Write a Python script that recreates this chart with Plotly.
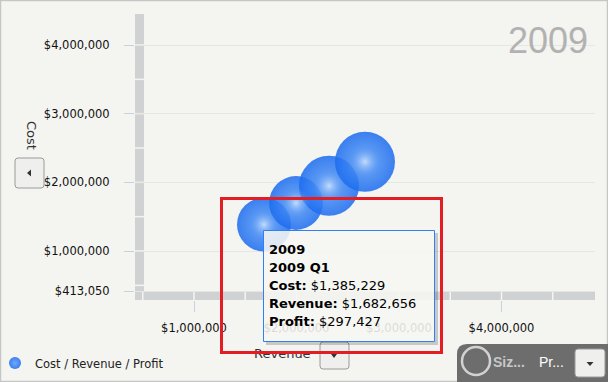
import plotly.graph_objects as go

# ---------------- data ----------------
quarters = ["2009 Q1", "2009 Q2", "2009 Q3", "2009 Q4"]
revenue = [1682656, 1995000, 2317000, 2668000]
cost = [1385229, 1699000, 1949000, 2300000]
profit = [297427, 296000, 368000, 368000]
year_label = "2009"
series_name = "Cost / Revenue / Profit"

y_tickvals = [413050, 1000000, 2000000, 3000000, 4000000]
y_ticktext = ["$413,050", "$1,000,000", "$2,000,000", "$3,000,000", "$4,000,000"]
x_tickvals = [1000000, 2000000, 3000000, 4000000]
x_ticktext = ["$1,000,000", "$2,000,000", "$3,000,000", "$4,000,000"]

# ---------------- geometry ----------------
W, H = 608, 382
L, R, T, B = 135, 13, 14, 82
PW, PH = W - L - R, H - T - B


def px(x):
    return (x - L) / PW


def py(y):
    return (H - B - y) / PH


X0, X1 = 424390, 4912195
Y0, Y1 = 286408, 4451456

BG = "#f4f4f0"
BAR = "#d0d1d3"
TICKC = "#c3d3e3"

fig = go.Figure()

max_d = 60
fig.add_trace(go.Scatter(
    x=revenue, y=cost, mode="markers", name=series_name,
    marker=dict(size=profit, sizemode="area", sizeref=2 * max(profit) / max_d ** 2,
                color="#1c6cf0", opacity=0.86,
                gradient=dict(type="radial", color="#5b9ef6"),
                line=dict(width=0)),
    hoverinfo="skip", showlegend=True,
))
hl_d = 34
fig.add_trace(go.Scatter(
    x=revenue, y=cost, mode="markers", name="hl",
    marker=dict(size=profit, sizemode="area", sizeref=2 * max(profit) / hl_d ** 2,
                color="rgba(70,140,245,0)",
                gradient=dict(type="radial", color="rgba(238,244,255,0.95)"),
                line=dict(width=0)),
    hoverinfo="skip", showlegend=False,
))

shapes = []
# axis bars
shapes.append(dict(type="rect", xref="paper", yref="paper", x0=0, x1=px(144), y0=0, y1=1,
                   fillcolor=BAR, line=dict(width=0), layer="between"))
shapes.append(dict(type="rect", xref="paper", yref="paper", x0=0, x1=1, y0=0, y1=py(292),
                   fillcolor=BAR, line=dict(width=0), layer="between"))
for k in range(1, 10):
    v = k * 500000
    shapes.append(dict(type="line", xref="x", yref="paper", x0=v, x1=v, y0=0, y1=py(292),
                       line=dict(color="#f4f4f2", width=1.5), layer="between"))
for k in range(1, 9):
    v = k * 500000
    shapes.append(dict(type="line", xref="paper", yref="y", x0=0, x1=px(144), y0=v, y1=v,
                       line=dict(color="#f4f4f2", width=1.5), layer="between"))

# outer border
shapes.append(dict(type="rect", xref="paper", yref="paper", x0=px(0.5), x1=px(607.5),
                   y0=py(381.5), y1=py(0.5), line=dict(color="#c6c6c6", width=1.5),
                   fillcolor="rgba(0,0,0,0)"))


def rrect(x0, y0, x1, y1, r):
    return (f"M {px(x0 + r)},{py(y0)} L {px(x1 - r)},{py(y0)} "
            f"Q {px(x1)},{py(y0)} {px(x1)},{py(y0 + r)} L {px(x1)},{py(y1 - r)} "
            f"Q {px(x1)},{py(y1)} {px(x1 - r)},{py(y1)} L {px(x0 + r)},{py(y1)} "
            f"Q {px(x0)},{py(y1)} {px(x0)},{py(y1 - r)} L {px(x0)},{py(y0 + r)} "
            f"Q {px(x0)},{py(y0)} {px(x0 + r)},{py(y0)} Z")


def tri(points):
    s = "M " + " L ".join(f"{px(a)},{py(b)}" for a, b in points) + " Z"
    return s


# bottom-right panel
panel = (f"M {px(457)},{py(382)} L {px(457)},{py(354)} Q {px(457)},{py(344)} {px(467)},{py(344)} "
         f"L {px(608)},{py(344)} L {px(608)},{py(382)} Z")
shapes.append(dict(type="path", xref="paper", yref="paper", path=panel,
                   fillcolor="#6d6d6d", line=dict(width=0)))
shapes.append(dict(type="circle", xref="paper", yref="paper", x0=px(462), x1=px(490),
                   y0=py(375), y1=py(347), line=dict(color="#d2d2d2", width=2.5),
                   fillcolor="rgba(0,0,0,0)"))

# buttons
for (bx0, by0, bx1, by1) in [(575, 349, 605, 377), (320, 342, 349, 369), (15, 158, 44, 188)]:
    shapes.append(dict(type="path", xref="paper", yref="paper", path=rrect(bx0, by0, bx1, by1, 3),
                       fillcolor="#efefed", line=dict(color="#9a9a9a", width=1)))
shapes.append(dict(type="path", xref="paper", yref="paper",
                   path=tri([(586.5, 362), (593.5, 362), (590, 366)]),
                   fillcolor="#333333", line=dict(width=0)))
shapes.append(dict(type="path", xref="paper", yref="paper",
                   path=tri([(331, 354), (337, 354), (334, 358)]),
                   fillcolor="#333333", line=dict(width=0)))
shapes.append(dict(type="path", xref="paper", yref="paper",
                   path=tri([(31, 169.5), (31, 176.5), (27, 173)]),
                   fillcolor="#333333", line=dict(width=0)))

# tooltip
shapes.append(dict(type="rect", xref="paper", yref="paper", x0=px(435), x1=px(438),
                   y0=py(345), y1=py(233), fillcolor="rgba(0,0,0,0.18)", line=dict(width=0)))
shapes.append(dict(type="rect", xref="paper", yref="paper", x0=px(266), x1=px(435),
                   y0=py(345), y1=py(342), fillcolor="rgba(0,0,0,0.18)", line=dict(width=0)))
shapes.append(dict(type="rect", xref="paper", yref="paper", x0=px(263.5), x1=px(434.5),
                   y0=py(341.5), y1=py(230.5), fillcolor="rgba(246,246,243,0.88)",
                   line=dict(color="#2f80f2", width=1)))

anns = []
anns.append(dict(text=year_label, xref="paper", yref="paper", x=px(590), y=py(40),
                 xanchor="right", yanchor="middle", showarrow=False,
                 font=dict(family="Liberation Sans, Arial", size=36, color="#b2b2b2")))
anns.append(dict(text="Cost", xref="paper", yref="paper", x=px(32), y=py(135), textangle=90,
                 xanchor="center", yanchor="middle", showarrow=False,
                 font=dict(family="DejaVu Sans", size=13, color="#333333")))
anns.append(dict(text="Revenue", xref="paper", yref="paper", x=px(282), y=py(353),
                 xanchor="center", yanchor="middle", showarrow=False,
                 font=dict(family="DejaVu Sans", size=13, color="#333333")))
anns.append(dict(text="<b>Siz...</b>", xref="paper", yref="paper", x=px(491), y=py(362),
                 xanchor="left", yanchor="middle", showarrow=False,
                 font=dict(family="Liberation Sans, Arial", size=14, color="#c8c8c8")))
anns.append(dict(text="Pr...", xref="paper", yref="paper", x=px(537), y=py(362),
                 xanchor="left", yanchor="middle", showarrow=False,
                 font=dict(family="Liberation Sans, Arial", size=14, color="#ffffff")))

tip_lines = [
    f"<b>{year_label}</b>",
    f"<b>{quarters[0]}</b>",
    f"<b>Cost:</b> ${cost[0]:,}",
    f"<b>Revenue:</b> ${revenue[0]:,}",
    f"<b>Profit:</b> ${profit[0]:,}",
]
for i, t in enumerate(tip_lines):
    anns.append(dict(text=t, xref="paper", yref="paper", x=px(267), y=py(249 + 18 * i),
                     xanchor="left", yanchor="middle", showarrow=False,
                     font=dict(family="DejaVu Sans", size=13, color="#000000")))

# red highlight frame
anns.append(dict(text=" ", xref="paper", yref="paper", x=px(219.5), y=py(197),
                 xanchor="left", yanchor="top", showarrow=False, width=217, height=151,
                 borderwidth=3, borderpad=0, bordercolor="#e41d25"))

fig.update_layout(
    width=W, height=H, autosize=False,
    margin=dict(l=L, r=R, t=T, b=B, pad=0, autoexpand=False),
    paper_bgcolor=BG, plot_bgcolor=BG,
    font=dict(family="DejaVu Sans", size=11.5, color="#111111"),
    xaxis=dict(range=[X0, X1], showgrid=False, zeroline=False, showline=False,
               automargin=False,
               tickvals=x_tickvals, ticktext=x_ticktext, ticks="outside", ticklen=11,
               tickcolor=TICKC, tickwidth=1, ticklabelstandoff=6,
               tickfont=dict(family="DejaVu Sans", size=11.5, color="#111111")),
    yaxis=dict(range=[Y0, Y1], showgrid=True, gridcolor="#e6e6e2", gridwidth=1,
               zeroline=False, showline=False, automargin=False,
               tickvals=y_tickvals, ticktext=y_ticktext, ticks="outside", ticklen=10,
               tickcolor=TICKC, tickwidth=1, ticklabelstandoff=12,
               tickfont=dict(family="DejaVu Sans", size=11.5, color="#111111")),
    showlegend=True,
    legend=dict(x=px(-5), y=py(363), xref="paper", yref="paper",
                xanchor="left", yanchor="middle", bgcolor="rgba(0,0,0,0)",
                itemsizing="constant", borderwidth=0,
                font=dict(family="DejaVu Sans", size=11.5, color="#222222")),
    shapes=shapes,
    annotations=anns,
)

fig.write_html("out.html", config={"displayModeBar": False},
               post_script="document.body.style.margin='0';document.body.style.overflow='hidden';")
